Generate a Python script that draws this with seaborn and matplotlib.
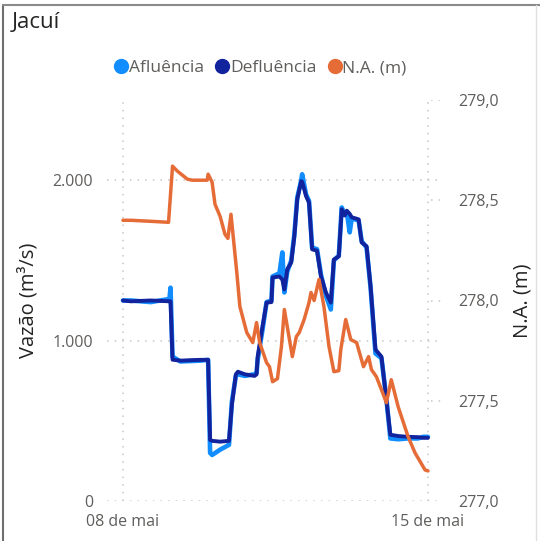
import matplotlib
matplotlib.use("Agg")
import matplotlib.pyplot as plt
from matplotlib.lines import Line2D
import seaborn as sns
import pandas as pd

# flow series (pixel x -> hours after 08/05 00:00), m3/s
flow_px = [122, 130, 150, 169, 170, 172, 180, 200, 208, 210, 212, 220, 229,
           232, 236, 238, 245, 255, 257, 258, 263, 267, 272, 273, 280,
           283, 285, 288, 292, 295, 298, 302, 303, 307, 310, 313, 318,
           322, 327, 332, 335, 340, 343, 346, 348, 351, 353, 360, 363,
           368, 372, 377, 383, 388, 392, 400, 410, 420, 425, 428, 430]
defluencia = [1250, 1245, 1250, 1245, 1245, 881, 875, 880, 880, 381, 375, 370, 375,
              600, 790, 806, 790, 780, 790, 900, 1090, 1237, 1240, 1393, 1400,
              1380, 1319, 1444, 1487, 1650, 1881, 1994, 1990, 1900, 1860, 1569, 1560,
              1400, 1300, 1237, 1506, 1525, 1819, 1780, 1810, 1790, 1769, 1756, 1612,
              1588, 1338, 944, 900, 631, 413, 405, 400, 398, 394, 394, 394]
afluencia = [1250, 1250, 1240, 1260, 1330, 900, 870, 875, 880, 300, 287, 320, 350,
             620, 780, 790, 780, 790, 800, 880, 1070, 1240, 1250, 1400, 1420,
             1550, 1300, 1430, 1500, 1660, 1890, 2000, 2037, 1910, 1870, 1580, 1570,
             1410, 1280, 1194, 1500, 1530, 1830, 1790, 1800, 1675, 1760, 1750, 1620,
             1580, 1330, 920, 890, 640, 390, 385, 390, 390, 400, 400, 400]
flow_hours = [round((p - 122) / 308 * 168, 1) for p in flow_px]

# reservoir level N.A. (m)
na_px = [122, 130, 150, 168, 172, 177, 187, 192, 207, 208, 212, 215, 220, 225, 228,
         231, 233, 237, 240, 247, 253, 257, 260, 267, 270, 273, 278, 282, 285, 288,
         293, 297, 300, 305, 310, 312, 315, 320, 325, 330, 335, 340, 342, 347, 352,
         358, 365, 370, 373, 378, 383, 388, 393, 400, 410, 417, 427, 430]
na_values = [278.40, 278.40, 278.395, 278.39, 278.67, 278.645, 278.605, 278.60, 278.60,
             278.63, 278.59, 278.48, 278.42, 278.33, 278.31, 278.43, 278.34, 278.14,
             277.97, 277.84, 277.79, 277.89, 277.79, 277.69, 277.67, 277.595, 277.61,
             277.77, 277.955, 277.87, 277.72, 277.82, 277.84, 277.905, 277.99, 278.04,
             278.00, 278.105, 277.97, 277.77, 277.645, 277.65, 277.755, 277.905, 277.805,
             277.79, 277.67, 277.72, 277.655, 277.62, 277.555, 277.49, 277.605, 277.47,
             277.32, 277.24, 277.155, 277.15]
na_hours = [round((p - 122) / 308 * 168, 1) for p in na_px]

x_tick_labels = ["08 de mai", "15 de mai"]
left_ticks = [0, 1000, 2000]
left_tick_labels = ["0", "1.000", "2.000"]
right_ticks = [277.0, 277.5, 278.0, 278.5, 279.0]
right_tick_labels = ["277,0", "277,5", "278,0", "278,5", "279,0"]

start = pd.Timestamp("2024-05-08")
df_flow = pd.DataFrame({
    "time": start + pd.to_timedelta(flow_hours, unit="h"),
    "Afluência": afluencia,
    "Defluência": defluencia,
})
df_na = pd.DataFrame({"time": start + pd.to_timedelta(na_hours, unit="h"), "N.A. (m)": na_values})

C_AFL = "#118DFF"
C_DEF = "#12239E"
C_NA = "#E66C37"
GRID = "#C8C6C4"
TXT = "#605E5C"

sns.set_theme(style="white")
plt.rcParams["font.family"] = ["Open Sans", "DejaVu Sans"]

fig = plt.figure(figsize=(5.4, 5.41), dpi=100)
ax = fig.add_axes([107 / 540, 40 / 541, 336 / 540, 401 / 541])
ax2 = ax.twinx()

sns.lineplot(data=df_flow, x="time", y="Afluência", ax=ax, color=C_AFL, lw=3.3, legend=False)
sns.lineplot(data=df_flow, x="time", y="Defluência", ax=ax, color=C_DEF, lw=2.8, legend=False)
sns.lineplot(data=df_na, x="time", y="N.A. (m)", ax=ax2, color=C_NA, lw=2.5, legend=False)

ax.set_xlim(start - pd.Timedelta(hours=8.8), start + pd.Timedelta(days=7, hours=8.3))
ax.set_ylim(0, 2500)
ax2.set_ylim(277.0, 279.0)

xt = [start, start + pd.Timedelta(days=7)]
ax.set_xticks(xt)
ax.set_xticklabels(x_tick_labels)
ax.set_yticks(left_ticks)
ax.set_yticklabels(left_tick_labels)
ax2.set_yticks(right_ticks)
ax2.set_yticklabels(right_tick_labels)

for a in (ax, ax2):
    for s in a.spines.values():
        s.set_visible(False)
    a.tick_params(length=0, colors=TXT, labelsize=11.5)
ax.tick_params(axis="y", pad=10)
ax.tick_params(axis="x", pad=9)
ax2.tick_params(axis="y", pad=11)

# dotted grid
for v in left_ticks:
    ax.axhline(v, color=GRID, ls=(0, (1, 4)), lw=1.1, zorder=0)
for t in xt:
    ax.axvline(t, color=GRID, ls=(0, (1, 4)), lw=1.1, zorder=0)
for v in right_ticks[1:]:
    ax2.axhline(v, xmin=0.965, xmax=1.0, color=GRID, ls=(0, (1, 4)), lw=1.1, zorder=0)

ax.set_xlabel("")
ax.set_ylabel("Vazão (m³/s)", fontsize=14.5, color="#252423", labelpad=10)
ax2.set_ylabel("N.A. (m)", fontsize=14.5, color="#252423", labelpad=10)

fig.text(12 / 540, 1 - 22 / 541, "Jacuí", fontsize=16, color="#252423", va="center", ha="left")

handles = [Line2D([], [], ls="", marker="o", ms=10, color=c) for c in (C_AFL, C_DEF, C_NA)]
fig.legend(handles, ["Afluência", "Defluência", "N.A. (m)"], loc="center",
           bbox_to_anchor=(260 / 540, 1 - 68 / 541), ncol=3, frameon=False,
           handletextpad=0.0, columnspacing=0.6, handlelength=0.9,
           fontsize=12.5, labelcolor=TXT)

# visual frame
fig.add_artist(Line2D([3 / 540, 3 / 540], [0, 1 - 5 / 541], color="#6E6E6E", lw=1.5))
fig.add_artist(Line2D([3 / 540, 1], [1 - 5 / 541, 1 - 5 / 541], color="#8A8A8A", lw=1.5))
fig.add_artist(Line2D([536 / 540, 536 / 540], [0, 1 - 5 / 541], color="#E0E0E0", lw=1))

fig.savefig("out.png", dpi=100)
